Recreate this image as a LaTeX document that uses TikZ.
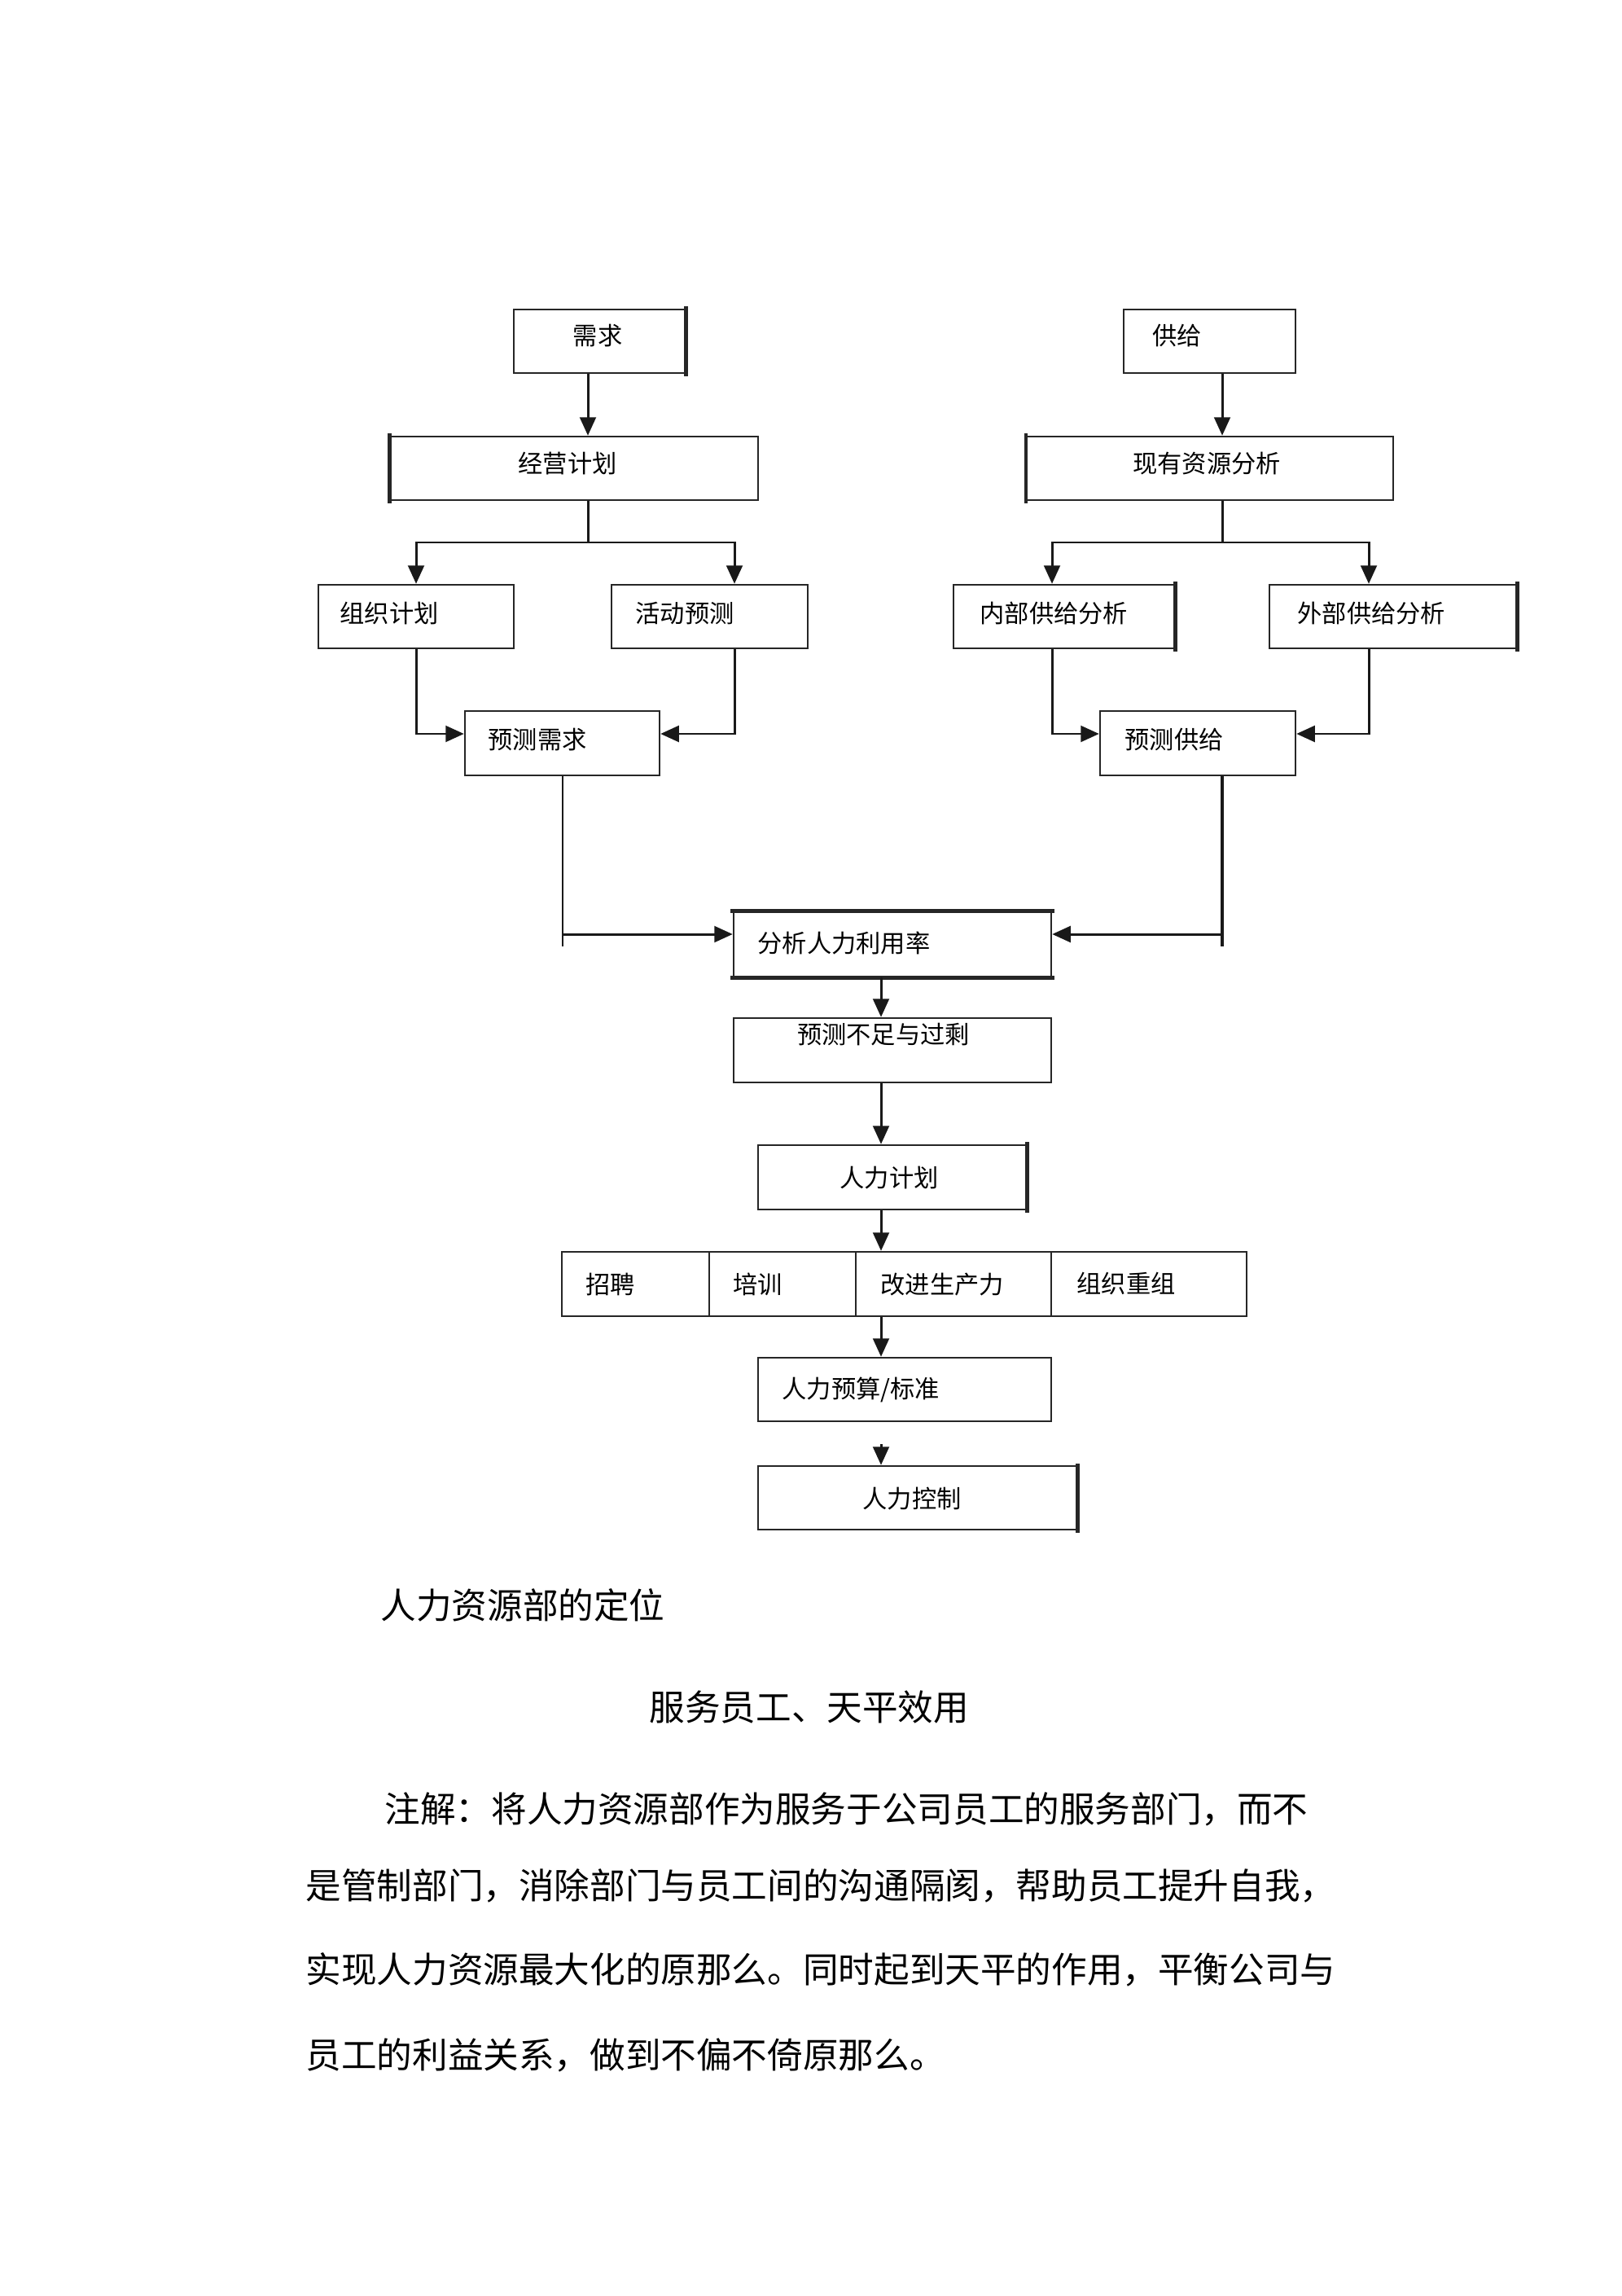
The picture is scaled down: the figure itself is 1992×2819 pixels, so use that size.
\documentclass[tikz,border=0pt]{standalone}
\usepackage{fontspec}
\newfontfamily\cjk{Noto Sans CJK SC}
\usetikzlibrary{arrows.meta,fit}
\begin{document}
\begin{tikzpicture}[x=0.01cm,y=-0.01cm,
  box/.style={draw=black!85, line width=0.7pt, inner sep=0pt},
  thickedge/.style={draw=black!85, line width=1.3pt, line cap=rect},
  lbl/.style={font=\cjk\fontsize{8.6pt}{10pt}\selectfont, inner sep=0pt, text=black},
  lblw/.style={lbl, anchor=west},
  ptext/.style={font=\cjk\fontsize{12.4pt}{15pt}\selectfont, inner sep=0pt, anchor=west, text=black},
  conn/.style={draw=black!90, line width=0.85pt},
  arr/.style={conn, -{Triangle[length=6.4pt,width=5.6pt]}}]
\useasboundingbox (0,0) rectangle (1992,2819);
\fill[white] (0,0) rectangle (1992,2819);

% ---- boxes ----
\node[box,fit={(631,380)(841,458)}] (xq) {};
\node[box,fit={(480,536)(931,614)}] (jy) {};
\node[box,fit={(391,718)(631,796)}] (zz) {};
\node[box,fit={(751,718)(992,796)}] (hd) {};
\node[box,fit={(571,873)(810,952)}] (ycxq) {};
\node[box,fit={(1380,380)(1591,458)}] (gj) {};
\node[box,fit={(1261,536)(1711,614)}] (xy) {};
\node[box,fit={(1171,718)(1442,796)}] (nb) {};
\node[box,fit={(1559,718)(1862,796)}] (wb) {};
\node[box,fit={(1351,873)(1591,952)}] (ycgj) {};
\node[box,fit={(901,1120)(1291,1199)}] (fx) {};
\node[box,fit={(901,1250)(1291,1329)}] (yc) {};
\node[box,fit={(931,1406)(1260,1485)}] (rljh) {};
\node[box,fit={(690,1537)(871,1616)}] (zp) {};
\node[box,fit={(871,1537)(1051,1616)}] (px) {};
\node[box,fit={(1051,1537)(1291,1616)}] (gjsc) {};
\node[box,fit={(1291,1537)(1531,1616)}] (zzcz) {};
\node[box,fit={(931,1667)(1291,1745)}] (ys) {};
\node[box,fit={(931,1800)(1322,1878)}] (kz) {};

% thicker edges
\draw[thickedge] (xq.north east) -- (xq.south east);
\draw[thickedge] (jy.north west) -- (jy.south west);
\draw[thickedge] (xy.north west) -- (xy.south west);
\draw[thickedge] (nb.north east) -- (nb.south east);
\draw[thickedge] (wb.north east) -- (wb.south east);
\draw[thickedge] (fx.north west) -- (fx.north east);
\draw[thickedge] (fx.south west) -- (fx.south east);
\draw[thickedge] (rljh.north east) -- (rljh.south east);
\draw[thickedge] (kz.north east) -- (kz.south east);

% ---- labels ----
\node[lbl]  (xqt)   at (734,412)  {需求};
\node[lbl]  (jyt)   at (697,569)  {经营计划};
\node[lblw] (zzt)   at (417,753)  {组织计划};
\node[lblw] (hdt)   at (780,753)  {活动预测};
\node[lblw] (ycxqt) at (599,908)  {预测需求};
\node[lblw] (gjt)   at (1415,412) {供给};
\node[lbl]  (xyt)   at (1482,569) {现有资源分析};
\node[lblw] (nbt)   at (1203,753) {内部供给分析};
\node[lblw] (wbt)   at (1593,753) {外部供给分析};
\node[lblw] (ycgjt) at (1381,908) {预测供给};
\node[lblw] (fxt)   at (930,1158) {分析人力利用率};
\node[lbl]  (yct)   at (1085,1270) {预测不足与过剩};
\node[lbl]  (rljht) at (1092,1446) {人力计划};
\node[lblw] (zpt)   at (719,1577) {招聘};
\node[lblw] (pxt)   at (900,1577) {培训};
\node[lblw] (gjsct) at (1081,1577) {改进生产力};
\node[lblw] (zzczt) at (1322,1576) {组织重组};
\node[lblw] (yst)   at (960,1706) {人力预算/标准};
\node[lbl]  (kzt)   at (1120,1840) {人力控制};

% ---- helper coordinates ----
\coordinate (vA) at (722,0);
\coordinate (vB) at (1501,0);
\coordinate (x902) at (902,0);
\coordinate (x1292) at (1292,0);
\coordinate (x1681) at (1681,0);
\coordinate (x691) at (691,0);
\coordinate (x1082) at (1082,0);
\coordinate (h901) at (0,901);
\coordinate (j1) at (722,666);
\coordinate (j2) at (1501,666);
\coordinate (e1) at (691,1162);
\coordinate (m1) at (691,1147);
\coordinate (e2) at (1501,1162);
\coordinate (m2) at (1501,1147);
\coordinate (s1) at (1082,1773);

% ---- connectors: demand side ----
\draw[arr] (xq.south -| vA) -- (jy.north -| vA);
\draw[conn] (jy.south -| vA) -- (j1);
\draw[arr] (j1) -| (zz.north);
\draw[arr] (j1) -| (hd.north -| x902);
\draw[arr] (zz.south) |- (ycxq.west |- h901);
\draw[arr] (hd.south -| x902) |- (ycxq.east |- h901);

% ---- connectors: supply side ----
\draw[arr] (gj.south -| vB) -- (xy.north -| vB);
\draw[conn] (xy.south -| vB) -- (j2);
\draw[arr] (j2) -| (nb.north -| x1292);
\draw[arr] (j2) -| (wb.north -| x1681);
\draw[arr] (nb.south -| x1292) |- (ycgj.west |- h901);
\draw[arr] (wb.south -| x1681) |- (ycgj.east |- h901);

% ---- merge ----
\draw[conn, line width=0.6pt] (ycxq.south -| x691) -- (e1);
\draw[arr] (m1) -- (fx.west |- m1);
\draw[conn, line width=1.1pt] (ycgj.south -| vB) -- (e2);
\draw[arr] (m2) -- (fx.east |- m2);

% ---- main chain ----
\draw[arr] (fx.south -| x1082) -- (yc.north -| x1082);
\draw[arr] (yc.south -| x1082) -- (rljh.north -| x1082);
\draw[arr] (rljh.south -| x1082) -- (gjsc.north -| x1082);
\draw[arr] (gjsc.south -| x1082) -- (ys.north -| x1082);
\draw[arr] (s1) -- (kz.north -| s1);

% ---- text below ----
\node[ptext] (t1) at (467,1971) {人力资源部的定位};
\node[ptext] (t2) at (797,2096) {服务员工、天平效用};
\node[ptext] (p1) at (472,2221) {注解：将人力资源部作为服务于公司员工的服务部门，而不};
\node[ptext] (p2) at (375,2315) {是管制部门，消除部门与员工间的沟通隔阂，帮助员工提升自我，};
\node[ptext] (p3) at (375,2418) {实现人力资源最大化的原那么。同时起到天平的作用，平衡公司与};
\node[ptext] (p4) at (375,2523) {员工的利益关系，做到不偏不倚原那么。};
\end{tikzpicture}
\end{document}
